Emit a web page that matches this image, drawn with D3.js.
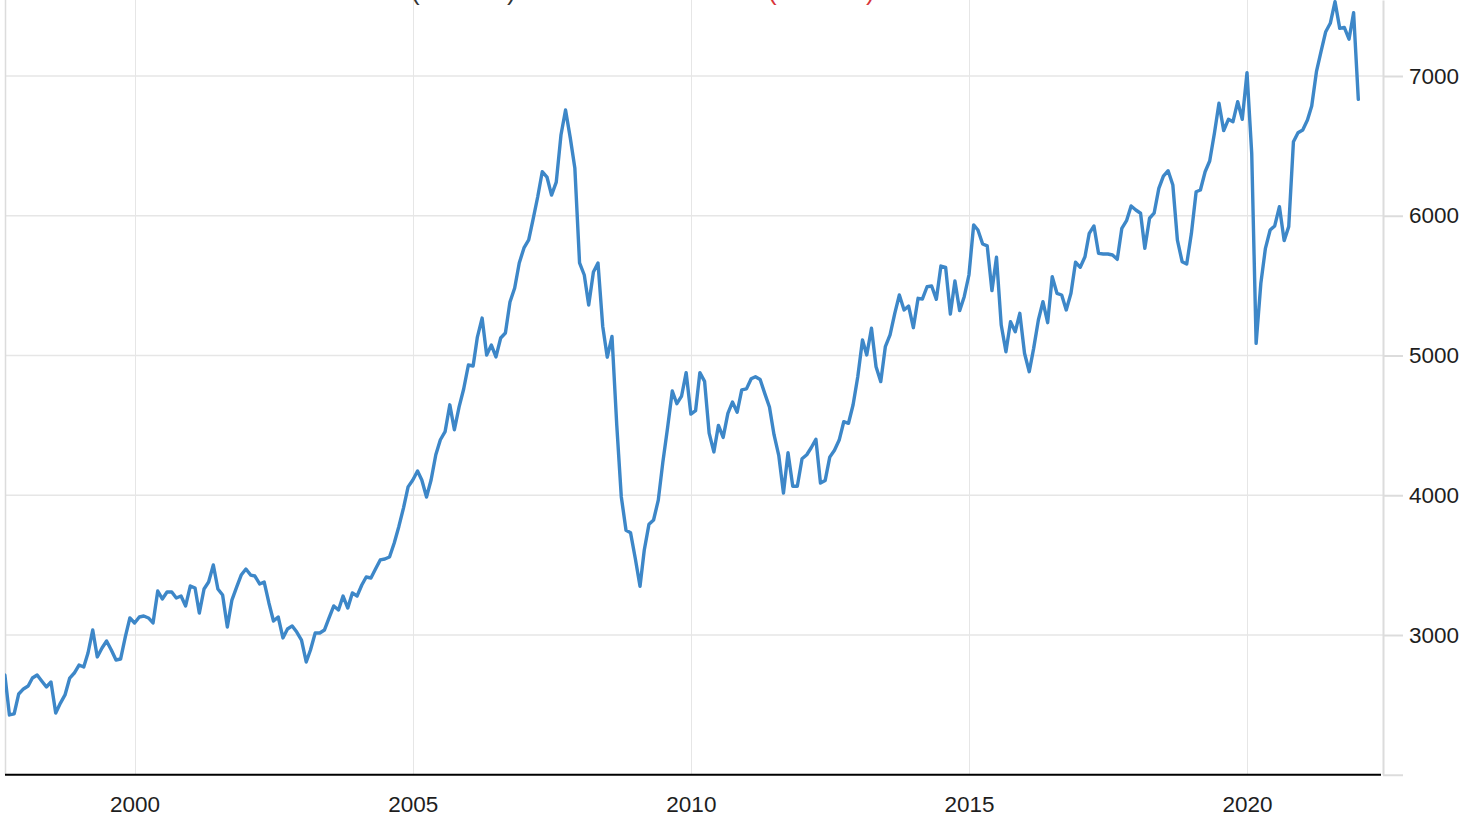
<!DOCTYPE html>
<html><head><meta charset="utf-8">
<script src="https://cdn.jsdelivr.net/npm/d3@7"></script>
<style>html,body{margin:0;padding:0;background:#fff;overflow:hidden}</style>
</head><body>
<svg id="chart" width="1476" height="819"></svg>
<script>
// ---- data (monthly index level, Sep 1997 .. Jan 2022) ----
const startYear = 1997;
const startMonth = 9; // September
const values = [
  // 1997 (Sep-Dec)
  2714, 2428, 2435, 2578,
  // 1998
  2614, 2635, 2692, 2714, 2671, 2628, 2664, 2442, 2513, 2571, 2692, 2728,
  // 1999
  2785, 2771, 2871, 3036, 2843, 2907, 2957, 2893, 2821, 2828, 2986, 3122,
  // 2000
  3086, 3129, 3136, 3122, 3086, 3315, 3258, 3308, 3308, 3265, 3279, 3208,
  // 2001
  3351, 3336, 3157, 3329, 3379, 3501, 3329, 3286, 3057, 3250, 3343, 3429,
  // 2002
  3472, 3429, 3422, 3365, 3379, 3229, 3100, 3129, 2979, 3043, 3065, 3021,
  // 2003
  2964, 2807, 2893, 3014, 3014, 3036, 3122, 3208, 3179, 3279, 3193, 3301,
  // 2004
  3279, 3358, 3415, 3408, 3472, 3537, 3544, 3558, 3658, 3775, 3910, 4060,
  // 2005
  4109, 4173, 4109, 3987, 4109, 4290, 4397, 4455, 4647, 4469, 4632, 4760,
  // 2006
  4932, 4925, 5132, 5268, 5004, 5075, 4990, 5125, 5161, 5383, 5483, 5662,
  // 2007
  5770, 5827, 5970, 6134, 6315, 6277, 6148, 6241, 6578, 6757, 6557, 6342,
  // 2008
  5662, 5576, 5361, 5597, 5662, 5210, 4988, 5136, 4507, 3990, 3749, 3731,
  // 2009
  3547, 3349, 3608, 3793, 3823, 3965, 4237, 4483, 4746, 4655, 4710, 4877,
  // 2010
  4581, 4606, 4877, 4815, 4445, 4310, 4500, 4414, 4586, 4667, 4594, 4754,
  // 2011
  4761, 4833, 4848, 4828, 4729, 4631, 4433, 4286, 4015, 4305, 4064, 4064,
  // 2012
  4261, 4290, 4340, 4401, 4088, 4106, 4273, 4322, 4395, 4526, 4515, 4646,
  // 2013
  4848, 5111, 5004, 5195, 4920, 4813, 5063, 5147, 5302, 5433, 5326, 5354,
  // 2014
  5199, 5409, 5404, 5492, 5497, 5402, 5640, 5631, 5297, 5533, 5321, 5421,
  // 2015
  5576, 5934, 5898, 5798, 5784, 5464, 5703, 5218, 5027, 5242, 5170, 5302,
  // 2016
  5016, 4884, 5051, 5254, 5385, 5235, 5564, 5445, 5433, 5326, 5445, 5667,
  // 2017
  5631, 5707, 5874, 5927, 5731, 5726, 5726, 5719, 5688, 5910, 5965, 6070,
  // 2018
  6041, 6018, 5767, 5982, 6018, 6196, 6284, 6322, 6220, 5826, 5671, 5655,
  // 2019
  5874, 6172, 6184, 6315, 6392, 6590, 6805, 6609, 6690, 6673, 6816, 6690,
  // 2020
  7024, 6447, 5087, 5517, 5767, 5898, 5927, 6065, 5822, 5922, 6530, 6594,
  // 2021
  6614, 6685, 6785, 7031, 7174, 7317, 7377, 7532, 7341, 7348, 7263, 7453,
  // 2022 (Jan)
  6833
];
const xTickYears = [2000, 2005, 2010, 2015, 2020];
const yTickValues = [2000, 3000, 4000, 5000, 6000, 7000];
const yGridValues = [3000, 4000, 5000, 6000, 7000];

// ---- layout ----
const plotLeft = 5, plotRight = 1383, plotTop = 0, plotBottom = 774.75;
const lineColor = "#3d87c8";
const gridColor = "#e6e6e6";
const textColor = "#1e1e1e";
const fontFamily = "'Liberation Sans', Arial, sans-serif";

const svg = d3.select("#chart");
const dates = values.map((v, i) => new Date(startYear, startMonth - 1 + i, 1));
const data = dates.map((d, i) => ({date: d, value: values[i]}));

const x = d3.scaleTime()
  .domain([new Date(2000, 0, 1), new Date(2020, 0, 1)])
  .range([134.6, 1247]);
const y = d3.scaleLinear()
  .domain([2000, 7543.8])
  .range([plotBottom, plotTop]);

// vertical grid lines
svg.append("g").selectAll("line")
  .data(xTickYears.map(yr => new Date(yr, 0, 1)))
  .join("line")
  .attr("x1", d => Math.round(x(d)) + 0.5).attr("x2", d => Math.round(x(d)) + 0.5)
  .attr("y1", plotTop).attr("y2", plotBottom)
  .attr("stroke", gridColor).attr("stroke-width", 1);

// horizontal grid lines
svg.append("g").selectAll("line")
  .data(yGridValues)
  .join("line")
  .attr("x1", plotLeft).attr("x2", plotRight)
  .attr("y1", d => y(d)).attr("y2", d => y(d))
  .attr("stroke", gridColor).attr("stroke-width", 1.5);

// left border
svg.append("line")
  .attr("x1", plotLeft + 0.5).attr("x2", plotLeft + 0.5)
  .attr("y1", plotTop).attr("y2", plotBottom)
  .attr("stroke", "#dcdcdc").attr("stroke-width", 1.5);

// y axis on the right
const yAxis = d3.axisRight(y)
  .tickValues(yTickValues)
  .tickSize(20)
  .tickSizeOuter(0)
  .tickPadding(6)
  .tickFormat(d => d === 2000 ? "" : d3.format("d")(d));
const gy = svg.append("g")
  .attr("transform", `translate(${plotRight},0)`)
  .call(yAxis);
gy.select(".domain").attr("stroke", "#dcdcdc").attr("stroke-width", 2);
gy.selectAll(".tick line").attr("stroke", "#dcdcdc").attr("stroke-width", 2);
gy.selectAll(".tick text")
  .attr("fill", textColor)
  .style("font-family", fontFamily)
  .style("font-size", "22.5px");

// clip for the line
svg.append("defs").append("clipPath").attr("id", "plotclip")
  .append("rect")
  .attr("x", plotLeft).attr("y", plotTop)
  .attr("width", plotRight - plotLeft).attr("height", plotBottom - plotTop);

const line = d3.line()
  .x(d => x(d.date))
  .y(d => y(d.value));

svg.append("path")
  .datum(data)
  .attr("clip-path", "url(#plotclip)")
  .attr("fill", "none")
  .attr("stroke", lineColor)
  .attr("stroke-width", 3.4)
  .attr("stroke-linejoin", "round")
  .attr("stroke-linecap", "round")
  .attr("d", line);

// x axis
const xAxis = d3.axisBottom(x)
  .tickValues(xTickYears.map(yr => new Date(yr, 0, 1)))
  .tickSize(0)
  .tickPadding(21)
  .tickFormat(d3.timeFormat("%Y"));
const gx = svg.append("g")
  .attr("transform", `translate(0,${plotBottom})`)
  .call(xAxis);
gx.select(".domain").remove();
gx.selectAll(".tick text")
  .attr("fill", textColor)
  .style("font-family", fontFamily)
  .style("font-size", "22.5px");

// black baseline
svg.append("line")
  .attr("x1", plotLeft).attr("x2", plotRight - 2)
  .attr("y1", plotBottom).attr("y2", plotBottom)
  .attr("stroke", "#000").attr("stroke-width", 2.2);

// legend remnants at the very top (only the bottoms of the brackets are in view)
const legendMarks = [
  {x: 411, t: "(", c: "#333"}, {x: 507, t: ")", c: "#333"},
  {x: 768, t: "(", c: "#d9343a"}, {x: 866, t: ")", c: "#d9343a"}
];
svg.append("g").selectAll("text")
  .data(legendMarks)
  .join("text")
  .attr("x", d => d.x).attr("y", 0)
  .attr("fill", d => d.c)
  .style("font-family", fontFamily)
  .style("font-size", "26px")
  .text(d => d.t);
</script>
</body></html>
